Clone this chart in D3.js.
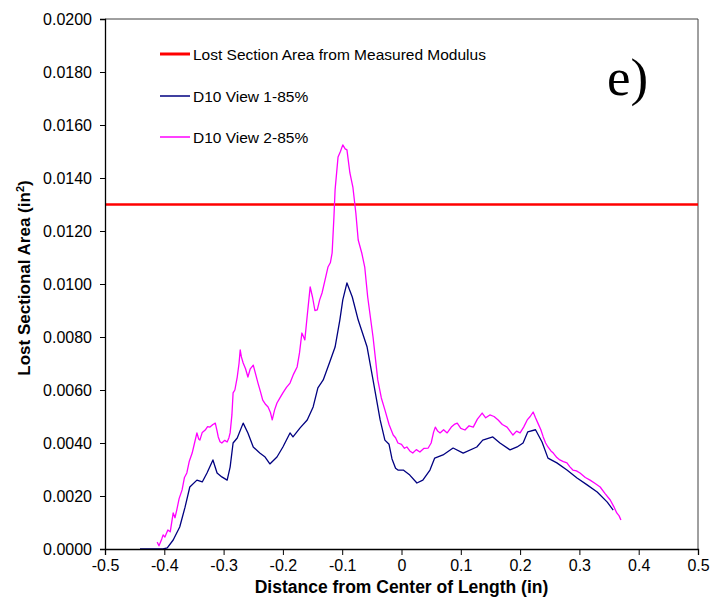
<!DOCTYPE html>
<html>
<head>
<meta charset="utf-8">
<script src="https://cdn.jsdelivr.net/npm/d3@7"></script>
<style>
  body { margin: 0; background: #fff; }
  svg { display: block; font-family: "Liberation Sans", Arial, sans-serif; }
</style>
</head>
<body>
<svg id="chart" width="710" height="598"></svg>
<script>
// ---- data ----
const xTicks = [-0.5, -0.4, -0.3, -0.2, -0.1, 0, 0.1, 0.2, 0.3, 0.4, 0.5];
const yTicks = [0, 0.002, 0.004, 0.006, 0.008, 0.010, 0.012, 0.014, 0.016, 0.018, 0.020];
const measuredModulusArea = 0.0130;
const seriesNames = ["Lost Section Area from Measured Modulus", "D10 View 1-85%", "D10 View 2-85%"];
const view1 = [[-0.441,0],[-0.402,0],[-0.395,0.00004],[-0.385,0.00034],[-0.374,0.00083],[-0.365,0.00158],[-0.357,0.00234],[-0.345,0.00260],[-0.336,0.00253],[-0.328,0.00287],[-0.318,0.00336],[-0.311,0.00287],[-0.303,0.00272],[-0.294,0.00260],[-0.289,0.00309],[-0.284,0.00400],[-0.277,0.00419],[-0.267,0.00475],[-0.259,0.00438],[-0.250,0.00385],[-0.239,0.00362],[-0.230,0.00347],[-0.222,0.00321],[-0.210,0.00347],[-0.200,0.00385],[-0.188,0.00438],[-0.183,0.00423],[-0.171,0.00457],[-0.159,0.00487],[-0.149,0.00536],[-0.141,0.00608],[-0.132,0.00638],[-0.121,0.00706],[-0.112,0.00762],[-0.104,0.00864],[-0.099,0.00940],[-0.092,0.01004],[-0.083,0.00951],[-0.073,0.00864],[-0.058,0.00762],[-0.048,0.00638],[-0.036,0.00487],[-0.028,0.00411],[-0.021,0.00395],[-0.016,0.00340],[-0.010,0.00305],[-0.006,0.00298],[0.003,0.00298],[0.014,0.00279],[0.026,0.00249],[0.036,0.00260],[0.048,0.00298],[0.056,0.00343],[0.070,0.00355],[0.087,0.00381],[0.104,0.00362],[0.127,0.00385],[0.137,0.00411],[0.154,0.00423],[0.166,0.00400],[0.183,0.00374],[0.195,0.00385],[0.205,0.00400],[0.213,0.00442],[0.226,0.00450],[0.237,0.00404],[0.247,0.00343],[0.262,0.00325],[0.279,0.00298],[0.296,0.00268],[0.313,0.00242],[0.330,0.00215],[0.347,0.00177],[0.357,0.00147]];
const view2 = [[-0.412,0.00026],[-0.409,0.00012],[-0.407,0.00023],[-0.404,0.00040],[-0.402,0.00053],[-0.399,0.00045],[-0.394,0.00072],[-0.390,0.00065],[-0.385,0.00136],[-0.382,0.00118],[-0.379,0.00147],[-0.375,0.00190],[-0.370,0.00223],[-0.366,0.00270],[-0.362,0.00287],[-0.358,0.00330],[-0.353,0.00362],[-0.349,0.00400],[-0.345,0.00438],[-0.342,0.00415],[-0.340,0.00411],[-0.336,0.00440],[-0.331,0.00449],[-0.327,0.00462],[-0.323,0.00460],[-0.318,0.00470],[-0.314,0.00475],[-0.311,0.00445],[-0.309,0.00423],[-0.306,0.00405],[-0.303,0.00400],[-0.298,0.00410],[-0.294,0.00404],[-0.291,0.00420],[-0.289,0.00438],[-0.286,0.00506],[-0.284,0.00589],[-0.281,0.00600],[-0.277,0.00649],[-0.274,0.00700],[-0.272,0.00751],[-0.270,0.00725],[-0.267,0.00702],[-0.263,0.00680],[-0.259,0.00649],[-0.255,0.00680],[-0.250,0.00694],[-0.246,0.00660],[-0.242,0.00626],[-0.238,0.00595],[-0.234,0.00562],[-0.229,0.00545],[-0.225,0.00536],[-0.221,0.00515],[-0.218,0.00487],[-0.214,0.00525],[-0.210,0.00551],[-0.205,0.00570],[-0.200,0.00589],[-0.194,0.00610],[-0.188,0.00626],[-0.182,0.00660],[-0.176,0.00687],[-0.172,0.00740],[-0.168,0.00815],[-0.165,0.00800],[-0.163,0.00789],[-0.159,0.00880],[-0.154,0.00989],[-0.150,0.00950],[-0.146,0.00900],[-0.142,0.00902],[-0.138,0.00940],[-0.134,0.00966],[-0.129,0.01015],[-0.124,0.01064],[-0.120,0.01080],[-0.117,0.01117],[-0.114,0.01250],[-0.112,0.01355],[-0.107,0.01479],[-0.103,0.01500],[-0.099,0.01525],[-0.095,0.01510],[-0.092,0.01506],[-0.087,0.01419],[-0.082,0.01366],[-0.077,0.01268],[-0.073,0.01166],[-0.067,0.01117],[-0.062,0.01064],[-0.057,0.00951],[-0.048,0.00800],[-0.040,0.00638],[-0.034,0.00570],[-0.028,0.00525],[-0.021,0.00470],[-0.014,0.00430],[-0.010,0.00420],[-0.006,0.00400],[0.000,0.00395],[0.005,0.00380],[0.009,0.00385],[0.014,0.00370],[0.019,0.00362],[0.025,0.00375],[0.031,0.00366],[0.038,0.00380],[0.045,0.00381],[0.050,0.00400],[0.054,0.00440],[0.057,0.00460],[0.061,0.00445],[0.065,0.00438],[0.071,0.00450],[0.077,0.00438],[0.084,0.00460],[0.089,0.00470],[0.094,0.00475],[0.100,0.00455],[0.107,0.00449],[0.114,0.00465],[0.121,0.00460],[0.128,0.00490],[0.136,0.00513],[0.142,0.00495],[0.149,0.00506],[0.156,0.00500],[0.163,0.00487],[0.170,0.00470],[0.178,0.00460],[0.183,0.00445],[0.188,0.00430],[0.194,0.00445],[0.200,0.00438],[0.206,0.00460],[0.212,0.00487],[0.217,0.00500],[0.222,0.00517],[0.226,0.00495],[0.230,0.00475],[0.235,0.00450],[0.239,0.00423],[0.243,0.00400],[0.247,0.00385],[0.252,0.00370],[0.256,0.00362],[0.262,0.00345],[0.267,0.00336],[0.273,0.00330],[0.279,0.00325],[0.284,0.00310],[0.289,0.00298],[0.295,0.00295],[0.301,0.00287],[0.310,0.00270],[0.318,0.00260],[0.326,0.00248],[0.335,0.00234],[0.343,0.00210],[0.352,0.00185],[0.358,0.00160],[0.363,0.00136],[0.367,0.00125],[0.370,0.00109]];

// ---- layout ----
const svg = d3.select("#chart");
const L = 105, R = 698, T = 19, B = 549;
const x = d3.scaleLinear().domain([-0.5, 0.5]).range([L, R]);
const y = d3.scaleLinear().domain([0, 0.02]).range([B, T]);

// frame (top & right)
svg.append("path")
  .attr("d", `M${L},${T}H${R}V${B}`)
  .attr("fill", "none").attr("stroke", "#404040").attr("stroke-width", 1);

const line = d3.line().x(d => x(d[0])).y(d => y(d[1]));

// red horizontal
svg.append("line")
  .attr("x1", x(-0.5)).attr("x2", x(0.5))
  .attr("y1", y(measuredModulusArea)).attr("y2", y(measuredModulusArea))
  .attr("stroke", "#ff0000").attr("stroke-width", 2.5);

svg.append("path").datum(view1).attr("d", line)
  .attr("fill", "none").attr("stroke", "#000080").attr("stroke-width", 1.3).attr("stroke-linejoin", "round");
svg.append("path").datum(view2).attr("d", line)
  .attr("fill", "none").attr("stroke", "#ff00ff").attr("stroke-width", 1.3).attr("stroke-linejoin", "round");

// axes
const xAxis = d3.axisBottom(x).tickValues(xTicks).tickSizeOuter(0).tickSize(6).tickPadding(5)
  .tickFormat(d => d === 0 ? "0" : d.toFixed(1));
const gx = svg.append("g").attr("transform", `translate(0,${B})`).call(xAxis);
const yAxis = d3.axisLeft(y).tickValues(yTicks).tickSizeOuter(0).tickSize(5).tickPadding(8)
  .tickFormat(d => d.toFixed(4));
const gy = svg.append("g").attr("transform", `translate(${L},0)`).call(yAxis);
[gx, gy].forEach(g => {
  g.select(".domain").attr("stroke", "#000").attr("stroke-width", 1.3);
  g.selectAll(".tick line").attr("stroke", "#000").attr("stroke-width", 1);
  g.selectAll(".tick text").attr("fill", "#000").style("font-size", "16px")
    .style("font-family", '"Liberation Sans", Arial, sans-serif');
});

// axis titles
svg.append("text")
  .attr("x", (L + R) / 2).attr("y", 593)
  .attr("text-anchor", "middle")
  .style("font-size", "17.5px").style("font-weight", "bold")
  .text("Distance from Center of Length (in)");

const yt = svg.append("text")
  .attr("transform", `translate(30,${(T + B) / 2 - 6}) rotate(-90)`)
  .attr("text-anchor", "middle")
  .style("font-size", "17px").style("font-weight", "bold");
yt.append("tspan").text("Lost Sectional Area (in");
yt.append("tspan").attr("baseline-shift", "super").style("font-size", "11px").text("2");
yt.append("tspan").text(")");

// legend
const legendColors = ["#ff0000", "#000080", "#ff00ff"];
const legendWidths = [3, 1.5, 1.5];
const legendY = [54, 96, 137];
seriesNames.forEach((name, i) => {
  svg.append("line").attr("x1", 160).attr("x2", 190)
    .attr("y1", legendY[i]).attr("y2", legendY[i])
    .attr("stroke", legendColors[i]).attr("stroke-width", legendWidths[i]);
  svg.append("text").attr("x", 193).attr("y", legendY[i] + 5.5)
    .style("font-size", "15.5px").attr("fill", "#000").text(name);
});

// panel label
svg.append("text").attr("x", 607).attr("y", 95)
  .style("font-family", '"Liberation Serif", "Times New Roman", serif')
  .style("font-size", "53px").text("e)");
</script>
</body>
</html>
